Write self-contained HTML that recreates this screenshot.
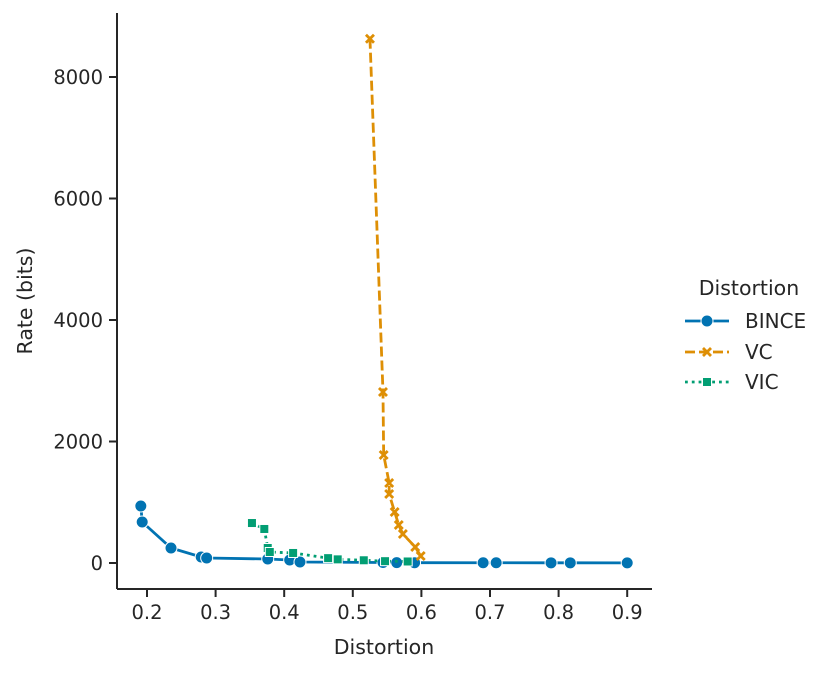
<!DOCTYPE html>
<html><head><meta charset="utf-8"><style>
body{margin:0;background:#fff;}
svg{display:block;font-family:"DejaVu Sans","Liberation Sans",sans-serif;}
</style></head><body>
<svg id="chart" width="830" height="673" viewBox="0 0 830 673"></svg>
<script>
const seriesNames=["BINCE","VC","VIC"];
const binceX=[0.191,0.193,0.235,0.279,0.287,0.376,0.408,0.423,0.544,0.564,0.590,0.690,0.709,0.789,0.817,0.900];
const binceY=[938,675,247,99,82,66,49,16,8,6,5,4,4,3,3,2];
const vcX=[0.525,0.544,0.545,0.553,0.553,0.561,0.567,0.573,0.591,0.599];
const vcY=[8630,2815,1778,1317,1136,840,625,477,263,115];
const vicX=[0.353,0.371,0.376,0.379,0.413,0.464,0.478,0.516,0.547,0.580];
const vicY=[658,560,247,181,165,80,60,45,30,25];
const xTicks=[0.2,0.3,0.4,0.5,0.6,0.7,0.8,0.9];
const yTicks=[0,2000,4000,6000,8000];

const NS="http://www.w3.org/2000/svg";
const svg=document.getElementById('chart');
const X=v=>147+(v-0.2)*686;
const Y=r=>563-r*0.06075;
function mk(t,a,p){const e=document.createElementNS(NS,t);for(const k in a)e.setAttribute(k,a[k]);(p||svg).appendChild(e);return e;}
const ax='#262626';
const xAxis=mk('line',{x1:117,y1:589,x2:652,y2:589,stroke:ax,'stroke-width':2});


const yAxis=mk('line',{x1:117,y1:13,x2:117,y2:589,stroke:ax,'stroke-width':2});


xTicks.forEach(v=>{
  const l=mk('line',{x1:X(v),y1:589,x2:X(v),y2:597,stroke:ax,'stroke-width':2});
  
  
  const t=mk('text',{x:X(v),y:619,'text-anchor':'middle','font-size':19.5,fill:ax});
  t.textContent=v.toFixed(1);
  
  
});
yTicks.forEach(v=>{
  const l=mk('line',{x1:109,y1:Y(v),x2:117,y2:Y(v),stroke:ax,'stroke-width':2});
  
  
  const t=mk('text',{x:103,y:Y(v)+7,'text-anchor':'end','font-size':19.5,fill:ax});
  t.textContent=String(v);
  
  
});
const xt=mk('text',{x:384,y:654,'text-anchor':'middle','font-size':20.5,fill:ax});xt.textContent='Distortion';


const yt=mk('text',{x:0,y:0,'text-anchor':'middle','font-size':20.5,fill:ax,transform:'translate(32,301) rotate(-90)'});yt.textContent='Rate (bits)';



function marker(type,cx,cy,col,g){
  let e;
  if(type==='o')e=mk('circle',{cx:cx,cy:cy,r:6,fill:col,stroke:'#fff','stroke-width':1},g);
  else if(type==='s')e=mk('rect',{x:cx-4.5,y:cy-4.5,width:9,height:9,fill:col,stroke:'#fff','stroke-width':1},g);
  else e=mk('path',{d:`M${cx-4},${cy-4}L${cx+4},${cy+4}M${cx+4},${cy-4}L${cx-4},${cy+4}`,stroke:col,'stroke-width':2.8},g);
  return e;
}
function series(xs,ys,col,dash,type,name){
  const g=mk('g',{});
  
  
  const p=mk('polyline',{points:xs.map((v,i)=>X(v)+','+Y(ys[i])).join(' '),fill:'none',stroke:col,'stroke-width':2.8,'stroke-dasharray':dash},g);
  
  
  xs.forEach((v,i)=>{const m=marker(type,X(v),Y(ys[i]),col,g);
    
    });
}
series(binceX,binceY,'#0173b2','none','o','bince');
series(vicX,vicY,'#029e73','2.8 4','s','vic');
series(vcX,vcY,'#de8f05','10 4','x','vc');

const lg=mk('g',{});


const lt=mk('text',{x:749,y:295,'text-anchor':'middle','font-size':20.5,fill:ax},lg);lt.textContent='Distortion';


const items=[['BINCE','#0173b2','none','o',321],['VC','#de8f05','10 4','x',352],['VIC','#029e73','2.8 4','s',382]];
items.forEach(it=>{
  const g=mk('g',{},lg);
  
  
  mk('line',{x1:685,y1:it[4],x2:729,y2:it[4],stroke:it[1],'stroke-width':2.8,'stroke-dasharray':it[2]},g);
  marker(it[3],707,it[4],it[1],g);
  const t=mk('text',{x:745,y:it[4]+7,'font-size':20,fill:ax},g);t.textContent=it[0];
});
</script>
</body></html>
